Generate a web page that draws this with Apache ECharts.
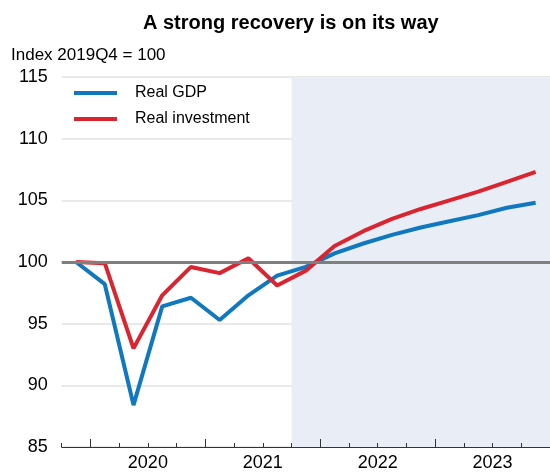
<!DOCTYPE html>
<html>
<head>
<meta charset="utf-8">
<script src="https://cdn.jsdelivr.net/npm/echarts@6/dist/echarts.min.js"></script>
<style>html,body{margin:0;padding:0;background:#fff}#c{width:550px;height:472px}</style>
</head>
<body>
<div id="c"></div>
<script>
// Quarters, 2019Q4 .. 2023Q4
const quarters = ['2019Q4','2020Q1','2020Q2','2020Q3','2020Q4','2021Q1','2021Q2','2021Q3','2021Q4',
  '2022Q1','2022Q2','2022Q3','2022Q4','2023Q1','2023Q2','2023Q3','2023Q4'];
const realGDP = [100, 98.2, 88.4, 96.4, 97.1, 95.3, 97.3, 98.9, 99.6, 100.7, 101.5, 102.2, 102.8, 103.3, 103.8, 104.4, 104.8];
const realInvestment = [100, 99.9, 93.0, 97.3, 99.6, 99.1, 100.3, 98.1, 99.3, 101.3, 102.5, 103.5, 104.3, 105.0, 105.7, 106.5, 107.3];
const yearLabels = ['2020','2021','2022','2023'];
const yTicks = [85, 90, 95, 100, 105, 110, 115];
const projectionStart = '2021Q4';
const baseline = 100;

const FONT = 'Arial, "Liberation Sans", sans-serif';
const n = quarters.length;
// x coordinate: quarter i occupies [i, i+1]; point at centre
const pts = arr => arr.map((v, i) => [i + 0.5, v]);
const yearStartIdx = yearLabels.map(y => quarters.indexOf(y + 'Q1'));
const majorTicks = yearStartIdx.slice();
const labelPos = yearStartIdx.map(s => s + 2);
const labelMap = {};
labelPos.forEach((p, k) => labelMap[p] = yearLabels[k]);

const chart = echarts.init(document.getElementById('c'), null, {renderer: 'canvas'});
chart.setOption({
  animation: false,
  title: [
    {text: 'A strong recovery is on its way', left: 138, top: 8,
     textStyle: {fontFamily: FONT, fontSize: 20, fontWeight: 'bold', color: '#000'}},
    {text: 'Index 2019Q4 = 100', left: 6, top: 42,
     textStyle: {fontFamily: FONT, fontSize: 17, fontWeight: 'normal', color: '#000'}}
  ],
  legend: {
    orient: 'vertical', left: 74, top: 85, padding: 0, itemWidth: 43, itemHeight: 4, itemGap: 10,
    icon: 'rect',
    data: ['Real GDP', 'Real investment'],
    textStyle: {fontFamily: FONT, fontSize: 16, color: '#000', padding: [0, 0, 0, 13], lineHeight: 16}
  },
  grid: {left: 61.7, right: 0, top: 77, bottom: 24, containLabel: false},
  xAxis: [
    {type: 'value', min: 0, max: n, interval: 1, z: 5,
     axisLine: {show: true, lineStyle: {color: '#333', width: 1}},
     axisTick: {show: true, inside: true, length: 4, lineStyle: {color: '#333'}},
     axisLabel: {show: false}, splitLine: {show: false}},
    {type: 'value', min: 0, max: n, interval: 1, position: 'bottom', z: 5,
     axisLine: {show: false},
     axisTick: {show: true, inside: true, length: 8, customValues: majorTicks, lineStyle: {color: '#333'}},
     axisLabel: {show: true, customValues: labelPos, formatter: v => labelMap[v] || '',
       fontFamily: FONT, fontSize: 18, color: '#000', margin: 7},
     splitLine: {show: false}}
  ],
  yAxis: {
    type: 'value', min: yTicks[0], max: yTicks[yTicks.length - 1], interval: 5, z: 0,
    axisLine: {show: false}, axisTick: {show: false},
    axisLabel: {fontFamily: FONT, fontSize: 18, color: '#000', margin: 14},
    splitLine: {show: true, lineStyle: {color: '#e2e2e2', width: 1.5}}
  },
  series: [
    {type: 'line', name: 'shade', data: [], z: -1, silent: true,
     markArea: {silent: true, itemStyle: {color: '#E9EDF5'},
       data: [[{xAxis: quarters.indexOf(projectionStart)}, {xAxis: n}]]}},
    {type: 'line', name: 'base', data: [], z: 1, silent: true,
     markLine: {silent: true, symbol: ['none', 'none'], label: {show: false},
       lineStyle: {color: '#7f7f7f', width: 3, type: 'solid'},
       data: [{yAxis: baseline}]}},
    {type: 'line', name: 'Real GDP', data: pts(realGDP), showSymbol: false, symbol: 'none', z: 3,
     color: '#0F78BE', lineStyle: {width: 4, color: '#0F78BE'}},
    {type: 'line', name: 'Real investment', data: pts(realInvestment), showSymbol: false, symbol: 'none', z: 4,
     color: '#DA2530', lineStyle: {width: 4, color: '#DA2530'}}
  ]
});
</script>
</body>
</html>
